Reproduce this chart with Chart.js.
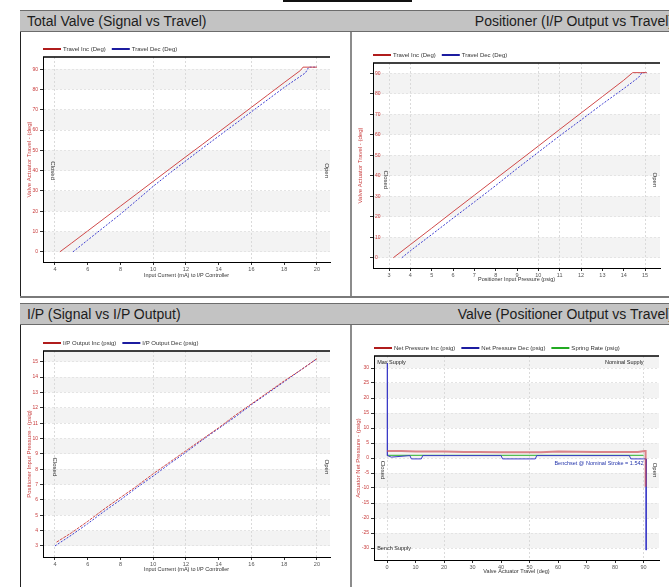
<!DOCTYPE html>
<html>
<head>
<meta charset="utf-8">
<script src="https://cdn.jsdelivr.net/npm/chart.js@4.4.1/dist/chart.umd.min.js"></script>
<style>
  html, body { margin: 0; padding: 0; background: #fff; overflow: hidden; }
  body { width: 669px; height: 587px; position: relative; font-family: "Liberation Sans", Arial, sans-serif; }
  .rule { position: absolute; left: 283px; top: 0; width: 129px; height: 2px; background: #111; }
  .bar { position: absolute; height: 20px; width: 330px; background: #c3c3c3; border-top: 1px solid #6c6c6c;
         border-bottom: 1px solid #6c6c6c; font-size: 14px; line-height: 20px; color: #1c1c1c; white-space: nowrap; overflow: hidden; }
  .bar.l { padding-left: 7px; width: 323px; }
  .bar.r { text-align: right; padding-right: 3px; width: 323px; }
  .body { position: absolute; background: #fff; }
  .body.l { border-left: 1px solid #222; }
  .body.r { border-left: 2px solid #8c8c8c; }
  .sep { position: absolute; left: 20px; top: 296px; width: 660px; height: 2px; background: #7a7a7a; }
  canvas { position: absolute; }
</style>
</head>
<body>
<div class="rule"></div>

<div class="bar l" style="left:20px;top:10px;">Total Valve (Signal vs Travel)</div>
<div class="bar r" style="left:350px;top:10px;">Positioner (I/P Output vs Travel)</div>
<div class="body l" style="left:20px;top:32px;width:330px;height:264px;"></div>
<div class="body r" style="left:350px;top:32px;width:330px;height:264px;"></div>
<div class="sep"></div>

<div class="bar l" style="left:20px;top:303px;">I/P (Signal vs I/P Output)</div>
<div class="bar r" style="left:350px;top:303px;">Valve (Positioner Output vs Travel)</div>
<div class="body l" style="left:20px;top:325px;width:330px;height:270px;"></div>
<div class="body r" style="left:350px;top:325px;width:330px;height:270px;"></div>

<canvas id="travelChart" width="326" height="262" style="left:22px;top:33px;"></canvas>
<canvas id="positionerChart" width="316" height="262" style="left:353px;top:33px;"></canvas>
<canvas id="ipChart" width="326" height="260" style="left:22px;top:327px;"></canvas>
<canvas id="valveChart" width="316" height="260" style="left:353px;top:327px;"></canvas>

<script>
// Total valve: input current (mA) vs travel (deg)
var tvIncX = [4.3, 5, 6, 7, 8, 9, 10, 11, 12, 13, 14, 15, 16, 17, 18, 19, 19.15, 19.6, 20];
var tvIncY = [0, 4.2, 10.3, 16.4, 22.5, 28.6, 34.7, 40.8, 46.9, 52.9, 59.0, 65.1, 71.2, 77.3, 83.4, 89.4, 91, 91, 91];
var tvDecX = [5.1, 6, 7, 8, 9, 10, 11, 12, 13, 14, 15, 16, 17, 18, 19.3, 19.5, 20];
var tvDecY = [0, 5.8, 12.2, 18.6, 25.4, 32.3, 38.7, 44.9, 51.0, 57.0, 63.0, 69.0, 75.0, 81.0, 88.2, 91, 91];
var tvXTicks = [4, 6, 8, 10, 12, 14, 16, 18, 20];
var tvYTicks = [0, 10, 20, 30, 40, 50, 60, 70, 80, 90];

// Positioner: input pressure (psig) vs travel (deg)
var psIncX = [3.2, 4, 5, 6, 7, 8, 9, 10, 11, 12, 13, 14, 14.42, 14.8, 15.08];
var psIncY = [0, 6.4, 14.4, 22.5, 30.5, 38.5, 46.5, 54.5, 62.6, 70.6, 78.6, 86.6, 90.3, 90.3, 90.3];
var psDecX = [3.6, 4, 5, 6, 7, 8, 9, 10, 11, 12, 13, 14, 14.7, 14.85, 15.08];
var psDecY = [0, 3.4, 11.3, 19.3, 27.2, 35.2, 43.5, 51.5, 59.5, 67.2, 75.0, 82.5, 88.0, 90.3, 90.3];
var psXTicks = [3, 4, 5, 6, 7, 8, 9, 10, 11, 12, 13, 14, 15];
var psYTicks = [0, 10, 20, 30, 40, 50, 60, 70, 80, 90];

// I/P: input current (mA) vs output pressure (psig)
var ipIncX = [4.1, 5, 6, 7, 8, 9, 10, 11, 12, 13, 14, 15, 16, 17, 18, 19, 20];
var ipIncY = [3.25, 3.85, 4.6, 5.4, 6.15, 6.9, 7.7, 8.45, 9.2, 9.95, 10.7, 11.5, 12.25, 13.0, 13.75, 14.45, 15.2];
var ipDecX = [4, 5, 6, 7, 8, 9, 10, 11, 12, 13, 14, 15, 16, 17, 18, 19, 20];
var ipDecY = [3.0, 3.7, 4.45, 5.25, 6.0, 6.8, 7.55, 8.35, 9.1, 9.9, 10.65, 11.4, 12.2, 12.95, 13.7, 14.45, 15.2];
var ipXTicks = [4, 6, 8, 10, 12, 14, 16, 18, 20];
var ipYTicks = [3, 4, 5, 6, 7, 8, 9, 10, 11, 12, 13, 14, 15];

// Valve: travel (deg) vs actuator net pressure (psig)
var npIncX = [0, 5, 10, 20, 27, 32, 40, 54, 60, 73, 88, 90.3, 90.7, 90.7];
var npIncY = [2.3, 2.3, 2.2, 2.2, 2.0, 2.0, 1.9, 1.9, 2.2, 2.0, 2.0, 2.3, 2.3, -9.6];
var npDecX = [0.1, 0.1, 1.5, 8, 8.5, 12, 12.5, 40, 40.5, 52, 52.5, 85, 85.5, 90, 90.9, 90.9];
var npDecY = [31.6, 0.8, 0.3, 0.8, -0.3, -0.3, 0.8, 0.8, -0.3, -0.3, 0.8, 0.8, -0.3, -0.3, -0.3, -30.7];
var springX = [0, 90];
var springY = [0.9, 0.9];
var npXTicks = [0, 10, 20, 30, 40, 50, 60, 70, 80, 90];
var npYTicks = [-30, -25, -20, -15, -10, -5, 0, 5, 10, 15, 20, 25, 30];

var FONT = '"Liberation Sans", Arial, sans-serif';
var RED = '#c83a3a';

function pts(xs, ys) {
  return xs.map(function (x, i) { return { x: x, y: ys[i] }; });
}

function fixedTicks(values) {
  return function (scale) {
    scale.ticks = values.map(function (v) { return { value: v }; });
  };
}

function line(label, xs, ys, color, legendColor, dash, width) {
  return {
    label: label,
    data: pts(xs, ys),
    showLine: true,
    borderColor: color,
    legendColor: legendColor,
    borderWidth: width || 1,
    borderDash: dash || [],
    pointRadius: 0,
    tension: 0
  };
}

// shaded bands, legend row, top border, side labels and notes
var decor = {
  id: 'decor',
  beforeDraw: function (chart) {
    var a = chart.chartArea, ys = chart.scales.y, ctx = chart.ctx;
    var t = ys.ticks.map(function (k) { return k.value; });
    ctx.save();
    ctx.fillStyle = '#f3f3f3';
    for (var i = 0; i < t.length; i += 2) {
      var top = i + 1 < t.length ? ys.getPixelForValue(t[i + 1]) : a.top;
      var bot = ys.getPixelForValue(t[i]);
      ctx.fillRect(a.left, top, a.right - a.left, bot - top);
    }
    ctx.restore();
  },
  afterDraw: function (chart, args, o) {
    var a = chart.chartArea, ctx = chart.ctx;
    var xs = chart.scales.x, ys = chart.scales.y;
    ctx.save();
    ctx.strokeStyle = '#000';
    ctx.lineWidth = 1.5;
    ctx.beginPath();
    ctx.moveTo(a.left, a.top);
    ctx.lineTo(a.right, a.top);
    ctx.stroke();

    // legend
    var lx = a.left, ly = a.top - 8;
    ctx.font = '6px ' + FONT;
    ctx.textBaseline = 'middle';
    chart.data.datasets.forEach(function (ds) {
      ctx.strokeStyle = ds.legendColor;
      ctx.lineWidth = 2;
      ctx.beginPath();
      ctx.moveTo(lx, ly);
      ctx.lineTo(lx + 18, ly);
      ctx.stroke();
      lx += 20;
      ctx.fillStyle = '#333';
      ctx.textAlign = 'left';
      ctx.fillText(ds.label, lx, ly);
      lx += ctx.measureText(ds.label).width + 6;
    });

    // Closed / Open markers
    var sy = ys.getPixelForValue(o.sideY);
    [['Closed', a.left + o.closedDx], ['Open', a.right - o.openDx]].forEach(function (s) {
      ctx.save();
      ctx.translate(s[1], sy);
      ctx.rotate(Math.PI / 2);
      ctx.textAlign = 'center';
      ctx.fillStyle = '#333';
      ctx.fillText(s[0], 0, 0);
      ctx.restore();
    });

    (o.notes || []).forEach(function (n) {
      ctx.font = '5.5px ' + FONT;
      ctx.textAlign = n.align;
      ctx.fillStyle = n.color;
      ctx.fillText(n.text, xs.getPixelForValue(n.x), ys.getPixelForValue(n.y));
    });
    ctx.restore();
  }
};

function createPlot(id, o) {
  var canvas = document.getElementById(id);
  return new Chart(canvas, {
    type: 'scatter',
    data: { datasets: o.datasets },
    plugins: [decor],
    options: {
      responsive: false,
      animation: false,
      events: [],
      layout: { padding: { left: o.padL, top: o.padT, right: o.padR, bottom: 0 } },
      plugins: {
        legend: { display: false },
        tooltip: { enabled: false },
        decor: o.decor
      },
      scales: {
        x: {
          type: 'linear',
          min: o.xMin,
          max: o.xMax,
          afterBuildTicks: fixedTicks(o.xTicks),
          afterFit: function (s) { s.height = o.xH; },
          border: { display: true, color: '#000', width: 1, dash: [2, 2] },
          grid: {
            color: function (c) {
              return c.tick && o.xGrid.indexOf(c.tick.value) >= 0 ? '#dadada' : 'rgba(0,0,0,0)';
            },
            tickColor: '#333',
            tickLength: 3
          },
          ticks: { color: '#555', font: { size: 5.5, family: FONT }, padding: 1, maxRotation: 0, autoSkip: false },
          title: {
            display: true, text: o.xTitle, color: '#333',
            font: { size: 5.5, family: FONT }, padding: { top: 0, bottom: o.xTitlePad }
          }
        },
        y: {
          type: 'linear',
          min: o.yMin,
          max: o.yMax,
          afterBuildTicks: fixedTicks(o.yTicks),
          afterFit: function (s) { s.width = o.yW; },
          border: { display: true, color: '#000', width: 1, dash: [2, 2] },
          grid: { color: '#e4e4e4', tickColor: '#333', tickLength: 3 },
          ticks: {
            color: RED, font: { size: 5, family: FONT }, padding: o.yMirror ? 2 : 2,
            mirror: !!o.yMirror, autoSkip: false
          },
          title: {
            display: true, text: o.yTitle, color: RED,
            font: { size: 6, family: FONT }, padding: { top: o.yTitlePad, bottom: 0 }
          }
        }
      }
    }
  });
}

createPlot('travelChart', {
  datasets: [
    line('Travel Inc (Deg)', tvIncX, tvIncY, '#d04a4a', '#b01c1c'),
    line('Travel Dec (Deg)', tvDecX, tvDecY, '#3d3dd0', '#1c1ca0', [2, 1.5])
  ],
  xMin: 3.27, xMax: 20.8, xTicks: tvXTicks, xGrid: [4, 10, 12, 16, 20],
  yMin: -5, yMax: 96, yTicks: tvYTicks,
  xTitle: 'Input Current (mA) to I/P Controller',
  yTitle: 'Valve Actuator Travel - (deg)',
  padL: 2, yW: 19, padT: 24, padR: 18, xH: 33, xTitlePad: 16.4, yTitlePad: 1.6,
  decor: { sideY: 40, closedDx: 10, openDx: 3 }
});

createPlot('positionerChart', {
  datasets: [
    line('Travel Inc (Deg)', psIncX, psIncY, '#d04a4a', '#b01c1c'),
    line('Travel Dec (Deg)', psDecX, psDecY, '#3d3dd0', '#1c1ca0', [2, 1.5])
  ],
  xMin: 2.25, xMax: 15.7, xTicks: psXTicks, xGrid: [3, 4, 10, 11, 12, 15],
  yMin: -5, yMax: 95, yTicks: psYTicks,
  xTitle: 'Positioner Input Pressure (psig)',
  yTitle: 'Valve Actuator Travel - (deg)',
  padL: 2, yW: 18, padT: 30, padR: 9, xH: 27, xTitlePad: 12.4, yTitlePad: 1.4, yMirror: true,
  decor: { sideY: 38, closedDx: 13, openDx: 5 }
});

createPlot('ipChart', {
  datasets: [
    line('I/P Output Inc (psig)', ipIncX, ipIncY, '#d04a4a', '#b01c1c', [3, 1]),
    line('I/P Output Dec (psig)', ipDecX, ipDecY, '#3d3dd0', '#1c1ca0', [2, 1.5])
  ],
  xMin: 3.27, xMax: 20.8, xTicks: ipXTicks, xGrid: [4, 10, 12, 16, 20],
  yMin: 2.28, yMax: 15.7, yTicks: ipYTicks,
  xTitle: 'Input Current (mA) to I/P Controller',
  yTitle: 'Positioner Input Pressure - (psig)',
  padL: 2, yW: 19, padT: 24, padR: 18, xH: 30, xTitlePad: 14.4, yTitlePad: 1.6,
  decor: { sideY: 8.15, closedDx: 12, openDx: 3 }
});

createPlot('valveChart', {
  datasets: [
    line('Net Pressure Inc (psig)', npIncX, npIncY, 'rgba(205,70,80,0.65)', '#b01c1c', [], 2),
    line('Net Pressure Dec (psig)', npDecX, npDecY, '#3b3bc8', '#1c1ca0'),
    line('Spring Rate (psig)', springX, springY, '#2bb02b', '#22aa22')
  ],
  xMin: -4.6, xMax: 95.4, xTicks: npXTicks, xGrid: [0, 20, 50, 90],
  yMin: -34, yMax: 34, yTicks: npYTicks,
  xTitle: 'Valve Actuator Travel (deg)',
  yTitle: 'Actuator Net Pressure - (psig)',
  padL: 1, yW: 20, padT: 29, padR: 10, xH: 27, xTitlePad: 12.4, yTitlePad: 0.4,
  decor: {
    sideY: -4, closedDx: 9, openDx: 4,
    notes: [
      { text: 'Max Supply', x: -3.5, y: 32, align: 'left', color: '#222' },
      { text: 'Nominal Supply', x: 90, y: 32, align: 'right', color: '#222' },
      { text: 'Bench Supply', x: -3.5, y: -30.3, align: 'left', color: '#222' },
      { text: 'Benchset @ Nominal Stroke = 1.542', x: 90, y: -1.8, align: 'right', color: '#2233aa' }
    ]
  }
});
</script>
</body>
</html>
